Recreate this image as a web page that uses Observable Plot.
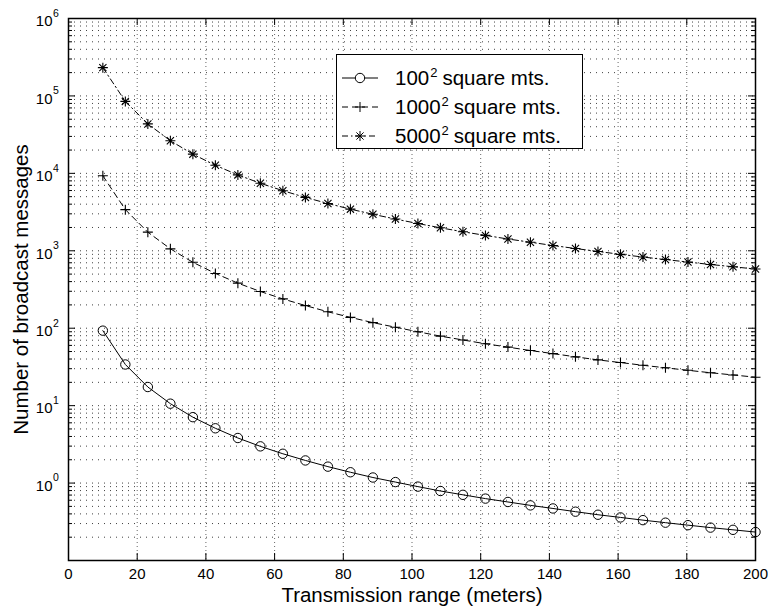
<!DOCTYPE html>
<html>
<head>
<meta charset="utf-8">
<script src="https://cdn.jsdelivr.net/npm/d3@7"></script>
<script src="https://cdn.jsdelivr.net/npm/@observablehq/plot@0.6"></script>
<style>
  body { margin: 0; background: #fff; }
  #chart { position: relative; width: 768px; height: 610px; font-family: "Liberation Sans", Arial, Helvetica, sans-serif; }
  #legend { position: absolute; left: 336px; top: 54px; width: 247px; height: 95px; border: 1.5px solid #000; background: #fff; box-sizing: border-box; }
  #legend .row { position: absolute; left: 0; height: 24px; display: flex; align-items: center; font-size: 20.5px; color: #000; white-space: nowrap; }
  #legend svg { display: block; margin-right: 9px; }
  #legend sup { font-size: 13px; vertical-align: 0; position: relative; top: -8px; margin: 0 5px 0 1px; }
</style>
</head>
<body>
<div id="chart"></div>
<script>
// Transmission range (meters) of each simulated point
const range = [10, 16.55, 23.10, 29.66, 36.21, 42.76, 49.31, 55.86, 62.41, 68.97,
               75.52, 82.07, 88.62, 95.17, 101.72, 108.28, 114.83, 121.38, 127.93, 134.48,
               141.03, 147.59, 154.14, 160.69, 167.24, 173.79, 180.34, 186.90, 193.45, 200];

// Number of broadcast messages for each deployment area
const area100 = [93, 34, 17.4, 10.6, 7.1, 5.1, 3.82, 2.98, 2.39, 1.96,
                 1.63, 1.38, 1.18, 1.03, 0.90, 0.79, 0.705, 0.63, 0.57, 0.515,
                 0.47, 0.427, 0.39, 0.36, 0.332, 0.308, 0.286, 0.266, 0.249, 0.233];
const area1000 = [9300, 3400, 1740, 1060, 710, 510, 382, 298, 239, 196,
                  163, 138, 118, 103, 90, 79, 70.5, 63, 57, 51.5,
                  47, 42.7, 39, 36, 33.2, 30.8, 28.6, 26.6, 24.9, 23.3];
const area5000 = [232000, 85000, 43500, 26400, 17700, 12700, 9550, 7450, 5970, 4890,
                  4080, 3450, 2960, 2570, 2250, 1980, 1760, 1580, 1420, 1290,
                  1170, 1070, 980, 900, 830, 770, 715, 665, 622, 581];

const seriesNames = ["100", "1000", "5000"];
const xTicks = [0, 20, 40, 60, 80, 100, 120, 140, 160, 180, 200];
const yExponents = [0, 1, 2, 3, 4, 5, 6];
const decades = [-1, 0, 1, 2, 3, 4, 5];
const mantissas = [1, 2, 3, 4, 5, 6, 7, 8, 9];

const FONT = '"Liberation Sans", Arial, Helvetica, sans-serif';

const rows = [area100, area1000, area5000].flatMap((vals, i) =>
  vals.map((v, j) => ({series: seriesNames[i], range: range[j], messages: v})));
const bySeries = s => rows.filter(d => d.series === s);

// log grid: every mantissa of every decade
const gridY = decades.flatMap(e => mantissas.map(m => m * Math.pow(10, e))).concat([1e6]);
const majorY = decades.map(e => Math.pow(10, e)).concat([1e6]);
const minorY = gridY.filter(v => !majorY.includes(v));

// thin-stroke marker shapes
const plusSymbol = {
  draw(ctx, size) {
    const r = Math.sqrt(size / Math.PI);
    ctx.moveTo(-r, 0); ctx.lineTo(r, 0);
    ctx.moveTo(0, -r); ctx.lineTo(0, r);
  }
};
const starSymbol = {
  draw(ctx, size) {
    const r = Math.sqrt(size / Math.PI), q = r * 0.72;
    ctx.moveTo(-r, 0); ctx.lineTo(r, 0);
    ctx.moveTo(0, -r); ctx.lineTo(0, r);
    ctx.moveTo(-q, -q); ctx.lineTo(q, q);
    ctx.moveTo(-q, q); ctx.lineTo(q, -q);
  }
};

const marginLeft = 68, marginRight = 13, marginTop = 18, marginBottom = 50;
const innerW = 768 - marginLeft - marginRight;
const innerH = 610 - marginTop - marginBottom;

const chart = Plot.plot({
  width: 768,
  height: 610,
  marginLeft, marginRight, marginTop, marginBottom,
  style: {fontFamily: FONT, background: "#fff", color: "#000", overflow: "visible"},
  x: {domain: [0, 200], label: null},
  y: {type: "log", domain: [0.1, 1e6], axis: null, label: null},
  marks: [
    // dotted grid
    Plot.ruleY(gridY, {stroke: "#000", strokeOpacity: 0.75, strokeWidth: 1, strokeDasharray: "1,5"}),
    Plot.ruleX(xTicks.slice(1, -1), {stroke: "#000", strokeOpacity: 0.6, strokeWidth: 1, strokeDasharray: "1,3"}),

    // inward ticks on all four sides
    Plot.tickY(majorY, {y: d => d, insetRight: innerW - 7, stroke: "#000"}),
    Plot.tickY(majorY, {y: d => d, insetLeft: innerW - 7, stroke: "#000"}),
    Plot.tickY(minorY, {y: d => d, insetRight: innerW - 4, stroke: "#000"}),
    Plot.tickY(minorY, {y: d => d, insetLeft: innerW - 4, stroke: "#000"}),
    Plot.tickX(xTicks, {x: d => d, insetTop: innerH - 7, stroke: "#000"}),
    Plot.tickX(xTicks, {x: d => d, insetBottom: innerH - 7, stroke: "#000"}),

    // series lines
    Plot.line(bySeries("100"), {x: "range", y: "messages", stroke: "#000", strokeWidth: 1}),
    Plot.line(bySeries("1000"), {x: "range", y: "messages", stroke: "#000", strokeWidth: 1, strokeDasharray: "6,4"}),
    Plot.line(bySeries("5000"), {x: "range", y: "messages", stroke: "#000", strokeWidth: 1, strokeDasharray: "6,3,1.5,3"}),

    // markers
    Plot.dot(bySeries("100"), {x: "range", y: "messages", symbol: "circle", r: 4.7, fill: "none", stroke: "#000", strokeWidth: 1}),
    Plot.dot(bySeries("1000"), {x: "range", y: "messages", symbol: plusSymbol, r: 5, fill: "none", stroke: "#000", strokeWidth: 1.1}),
    Plot.dot(bySeries("5000"), {x: "range", y: "messages", symbol: starSymbol, r: 5, fill: "none", stroke: "#000", strokeWidth: 1.1}),

    // box
    Plot.frame({stroke: "#000", strokeWidth: 1.5}),

    // x tick labels
    Plot.axisX(xTicks, {tickSize: 0, tickPadding: 8, fontSize: 15, label: null}),

    // y tick labels 10^n
    Plot.text(yExponents, {y: e => Math.pow(10, e), frameAnchor: "left", text: () => "10",
      textAnchor: "end", dx: -16, dy: 3, fontSize: 15}),
    Plot.text(yExponents, {y: e => Math.pow(10, e), frameAnchor: "left", text: e => String(e),
      textAnchor: "start", dx: -15.5, dy: -5, fontSize: 10.5}),

    // axis titles
    Plot.text(["Transmission range (meters)"], {frameAnchor: "bottom", text: d => d,
      textAnchor: "middle", lineAnchor: "middle", dy: 35, fontSize: 20.5}),
    Plot.text(["Number of broadcast messages"], {frameAnchor: "left", text: d => d,
      textAnchor: "middle", lineAnchor: "middle", rotate: -90, dx: -47, fontSize: 20.5})
  ]
});

const root = document.getElementById("chart");
root.appendChild(chart);

// legend
const legendItems = [
  {base: "100", dash: null, marker: "circle"},
  {base: "1000", dash: "6,4", marker: "plus"},
  {base: "5000", dash: "6,3,1.5,3", marker: "star"}
];
const legend = document.createElement("div");
legend.id = "legend";
legendItems.forEach((item, i) => {
  const row = document.createElement("div");
  row.className = "row";
  row.style.top = (11 + i * 29) + "px";
  row.style.left = "3px";
  const ns = "http://www.w3.org/2000/svg";
  const svg = document.createElementNS(ns, "svg");
  svg.setAttribute("width", "46");
  svg.setAttribute("height", "20");
  const line = document.createElementNS(ns, "line");
  line.setAttribute("x1", "2"); line.setAttribute("x2", "38");
  line.setAttribute("y1", "10"); line.setAttribute("y2", "10");
  line.setAttribute("stroke", "#000");
  if (item.dash) line.setAttribute("stroke-dasharray", item.dash);
  svg.appendChild(line);
  const path = document.createElementNS(ns, "path");
  const sym = item.marker === "circle" ? d3.symbolCircle : item.marker === "plus" ? plusSymbol : starSymbol;
  const r = item.marker === "circle" ? 4.7 : 5;
  path.setAttribute("d", d3.symbol(sym, Math.PI * r * r)());
  path.setAttribute("transform", "translate(20,10)");
  path.setAttribute("fill", item.marker === "circle" ? "#fff" : "none");
  path.setAttribute("stroke", "#000");
  svg.appendChild(path);
  row.appendChild(svg);
  const label = document.createElement("span");
  label.innerHTML = item.base + "<sup>2</sup>square mts.";
  row.appendChild(label);
  legend.appendChild(row);
});
root.appendChild(legend);
</script>
</body>
</html>
